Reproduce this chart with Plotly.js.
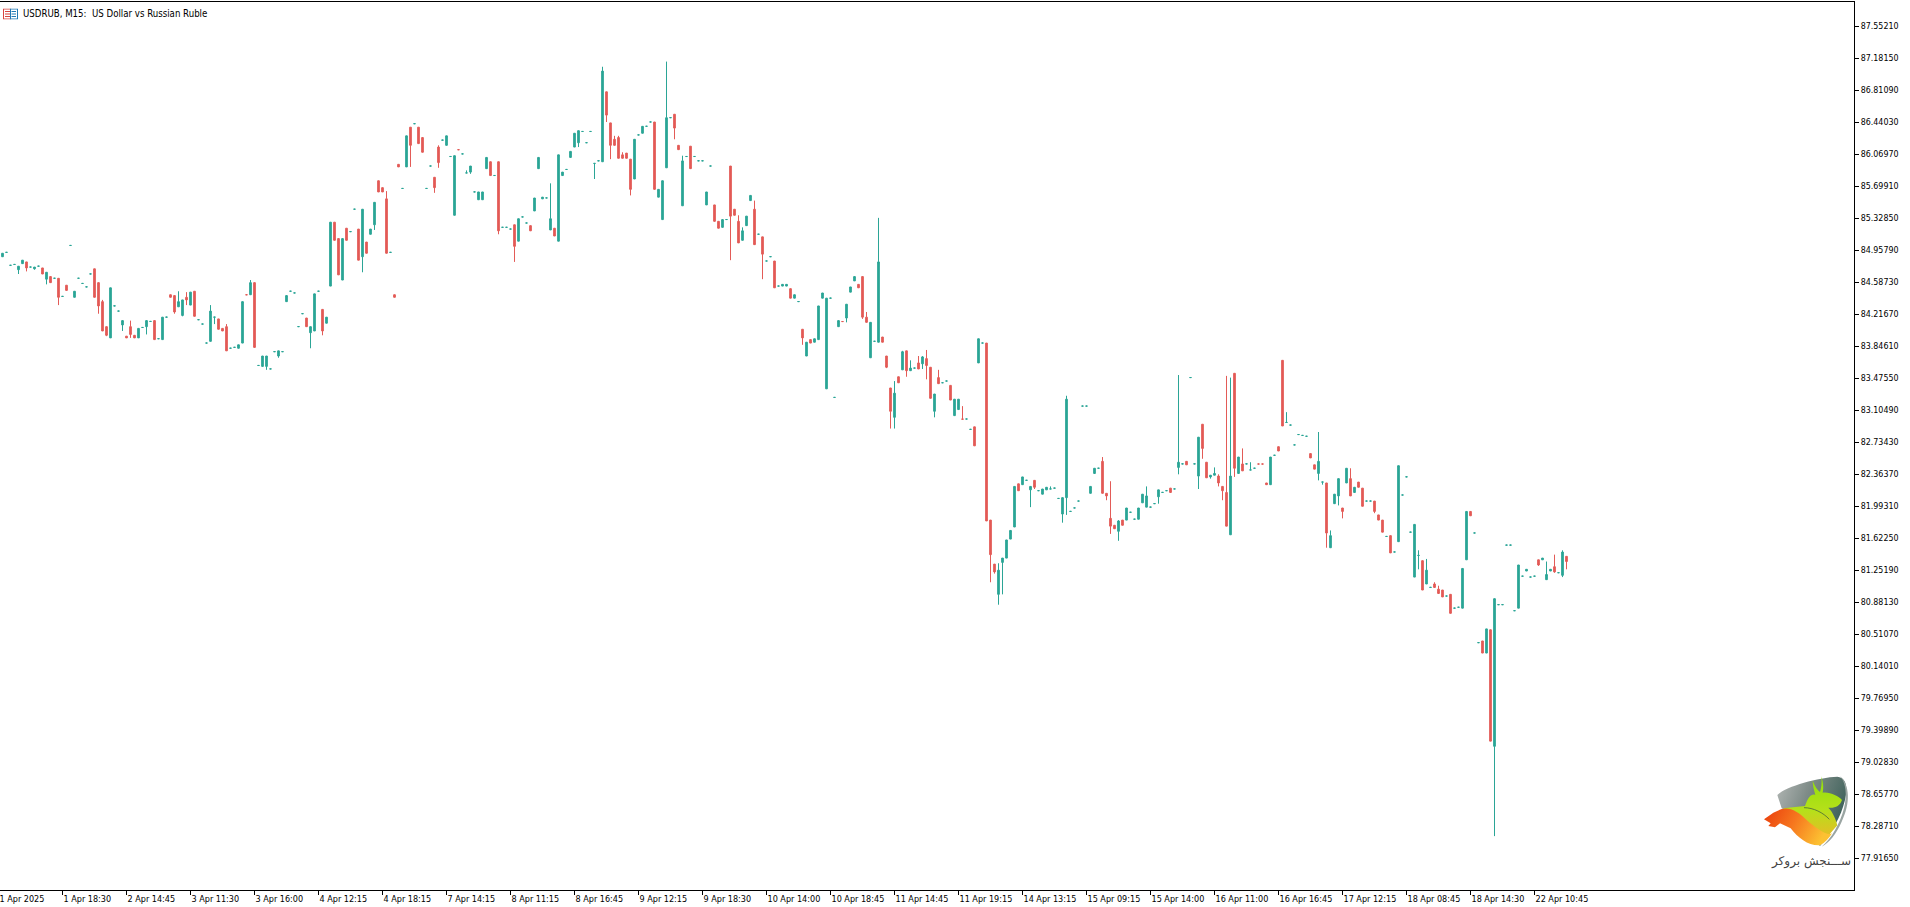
<!DOCTYPE html>
<html><head><meta charset="utf-8">
<script src="https://cdn.plot.ly/plotly-3.0.1.min.js"></script>
<style>html,body{margin:0;padding:0;background:#fff;overflow:hidden}#chart{position:absolute;left:-2px;top:0;width:1912px;height:907px}</style>
</head><body><div id="chart"></div>
<script>
const chartTitle = "USDRUB, M15:\u00a0\u00a0US Dollar vs Russian Ruble";
const brokerName = "ســـنجش بروکر";
const opens = [
84.88,84.93,84.78,84.79,84.73,84.80,84.82,84.76,84.74,84.77,
84.75,84.62,84.65,84.63,84.63,84.42,84.55,85.01,84.41,84.63,
84.57,84.53,84.68,84.74,84.58,84.36,84.07,83.94,84.31,84.25,
84.09,83.96,84.07,83.97,83.94,84.06,84.07,84.13,84.14,83.93,
83.92,84.18,84.44,84.43,84.30,84.20,84.41,84.32,84.48,84.15,
84.10,83.88,83.90,84.18,84.16,84.05,84.07,83.82,83.83,83.82,
83.88,84.44,84.44,84.58,83.62,83.61,83.61,83.58,83.78,83.73,
83.78,84.36,84.48,84.46,84.07,84.22,84.17,84.00,84.02,84.48,
84.27,84.11,84.54,85.28,85.09,84.61,85.21,85.17,85.43,85.20,
84.88,85.05,85.14,85.25,85.76,85.68,85.55,84.93,84.44,85.95,
85.67,85.92,86.38,86.42,86.38,86.26,85.67,85.93,85.80,86.15,
86.23,86.17,86.04,85.36,86.12,86.07,85.85,85.86,85.63,85.54,
85.54,85.90,85.98,85.82,85.98,85.22,85.22,85.20,85.25,85.06,
85.34,85.27,85.24,85.41,85.90,85.55,85.56,85.19,85.21,85.06,
85.82,85.89,86.03,86.15,86.20,86.33,86.20,86.33,85.96,85.99,
85.98,86.79,86.43,86.24,86.26,86.06,86.08,86.01,85.78,86.29,
86.31,86.39,86.44,86.44,85.57,85.31,85.91,86.49,86.53,86.17,
85.47,86.04,86.16,86.04,85.99,85.99,85.48,85.93,85.48,85.29,
85.22,85.31,85.93,85.43,85.29,85.07,85.24,85.53,85.43,85.14,
85.11,84.83,84.88,84.83,84.54,84.54,84.54,84.51,84.40,84.36,
84.04,83.73,83.92,83.89,83.92,84.40,83.35,84.40,83.25,84.07,
84.13,84.17,84.47,84.60,84.56,84.65,84.18,83.71,83.90,83.89,
83.95,83.73,83.36,83.02,83.49,83.57,83.79,83.56,83.59,83.65,
83.64,83.70,83.60,83.09,83.48,83.42,83.44,83.39,83.04,83.11,
83.00,83.00,82.88,82.91,83.65,83.88,83.88,81.83,81.32,80.97,
81.34,81.39,81.61,81.75,82.25,82.24,82.29,82.18,82.29,82.17,
82.13,82.18,82.19,82.20,82.08,81.90,82.09,81.93,81.97,82.05,
83.15,83.15,82.14,82.37,82.43,82.51,82.14,81.85,81.77,81.70,
81.83,81.83,81.92,81.84,81.84,82.03,81.98,81.98,82.02,82.10,
82.15,82.17,82.20,82.19,82.44,82.48,82.51,83.48,82.48,82.34,
82.94,82.50,82.33,82.35,82.34,82.22,82.15,81.66,83.53,82.37,
82.48,82.48,82.41,82.43,82.48,82.48,82.26,82.24,82.58,82.68,
83.68,82.96,82.93,82.70,82.82,82.81,82.80,82.60,82.47,82.37,
82.27,82.26,81.51,82.02,82.11,81.97,82.26,82.31,82.15,82.27,
82.20,82.05,82.05,82.05,81.89,81.83,81.64,81.65,81.46,81.58,
82.12,82.33,81.69,81.17,81.42,81.36,81.09,81.05,81.09,81.03,
81.02,80.95,80.97,80.81,80.82,80.81,81.37,81.93,81.68,80.41,
80.43,80.29,80.56,79.21,80.85,80.85,81.54,81.54,80.78,80.81,
81.18,81.24,81.17,81.18,81.37,81.37,81.14,81.24,81.29,81.22,81.19,81.41];
const highs = [
84.92,84.93,84.78,84.79,84.77,84.84,84.82,84.76,84.76,84.77,
84.75,84.70,84.65,84.63,84.63,84.42,84.55,85.01,84.48,84.63,
84.57,84.53,84.68,84.74,84.58,84.38,84.07,84.52,84.31,84.25,
84.14,83.96,84.14,83.97,84.05,84.06,84.14,84.13,84.14,83.93,
84.18,84.18,84.44,84.43,84.48,84.38,84.47,84.47,84.48,84.15,
84.10,83.88,84.32,84.18,84.16,84.05,84.10,83.82,83.83,83.86,
84.36,84.44,84.61,84.58,83.62,83.73,83.73,83.58,83.78,83.79,
83.78,84.43,84.48,84.46,84.07,84.22,84.17,84.07,84.45,84.48,
84.27,84.18,85.28,85.28,85.09,85.09,85.21,85.17,85.43,85.20,
85.43,85.05,85.20,85.51,85.76,85.68,85.64,84.93,84.44,85.95,
85.67,86.28,86.38,86.42,86.38,86.26,85.67,85.93,85.80,86.17,
86.23,86.28,86.04,86.05,86.12,86.07,85.88,85.93,85.63,85.63,
85.63,86.03,85.98,85.82,85.98,85.22,85.22,85.20,85.25,85.32,
85.34,85.27,85.24,85.56,86.03,85.57,85.56,85.73,85.21,86.06,
85.86,85.89,86.10,86.31,86.34,86.33,86.20,86.33,85.96,85.99,
87.08,86.79,86.43,86.28,86.28,86.09,86.08,86.01,86.24,86.29,
86.39,86.39,86.44,86.44,85.66,85.76,87.14,86.49,86.53,86.17,
86.05,86.04,86.16,86.04,85.99,85.99,85.63,85.93,85.48,85.29,
85.31,85.31,85.93,85.43,85.36,85.22,85.35,85.59,85.53,85.14,
85.11,84.83,84.88,84.83,84.54,84.56,84.56,84.51,84.44,84.36,
84.04,83.89,83.92,83.93,84.31,84.46,84.40,84.40,83.25,84.14,
84.13,84.33,84.53,84.65,84.56,84.65,84.24,84.12,83.90,85.33,
83.95,83.73,83.36,83.44,83.49,83.79,83.79,83.68,83.59,83.73,
83.73,83.80,83.60,83.29,83.57,83.42,83.44,83.39,83.23,83.23,
83.15,83.00,82.88,82.91,83.93,83.88,83.88,81.83,81.32,81.33,
81.39,81.60,81.71,82.22,82.25,82.33,82.29,82.22,82.29,82.17,
82.19,82.21,82.22,82.20,82.08,82.09,83.27,81.93,81.97,82.05,
83.15,83.15,82.22,82.43,82.43,82.56,82.14,82.28,81.77,81.83,
81.83,81.97,81.92,81.84,81.97,82.13,82.22,81.98,82.02,82.18,
82.15,82.17,82.20,82.19,83.51,82.48,82.51,83.48,82.48,82.79,
82.94,82.50,82.35,82.44,82.36,82.22,83.50,83.48,83.53,82.56,
82.66,82.48,82.50,82.43,82.48,82.48,82.26,82.56,82.58,82.68,
83.68,83.08,82.93,82.70,82.82,82.81,82.80,82.60,82.47,82.85,
82.27,82.26,81.71,82.13,82.31,81.97,82.43,82.43,82.21,82.27,
82.20,82.05,82.05,82.05,81.89,81.83,81.64,81.65,81.46,82.46,
82.12,82.33,81.69,81.78,81.48,81.36,81.38,81.05,81.11,81.07,
81.02,80.95,80.97,80.81,80.82,81.27,81.93,81.93,81.68,80.41,
80.43,80.57,80.56,80.92,80.85,80.85,81.54,81.54,80.78,81.31,
81.18,81.26,81.17,81.18,81.37,81.39,81.35,81.26,81.43,81.22,81.48,81.41];
const lows = [
84.88,84.93,84.78,84.79,84.68,84.80,84.71,84.76,84.73,84.77,
84.68,84.56,84.58,84.63,84.32,84.42,84.49,85.01,84.41,84.63,
84.57,84.53,84.68,84.41,84.22,84.02,83.96,83.94,84.31,84.25,
84.02,83.94,83.94,83.94,83.94,84.06,83.98,84.13,83.92,83.93,
83.92,84.18,84.41,84.22,84.30,84.19,84.32,84.32,84.19,84.15,
84.10,83.88,83.90,84.10,84.04,84.02,83.79,83.82,83.83,83.82,
83.88,84.44,84.44,83.83,83.62,83.61,83.57,83.58,83.78,83.71,
83.78,84.36,84.48,84.46,84.07,84.22,84.07,83.82,84.02,84.48,
83.97,84.11,84.54,85.07,84.67,84.61,85.07,85.17,85.43,84.84,
84.70,84.92,85.14,85.19,85.63,85.63,84.92,84.93,84.41,85.92,
85.67,85.92,85.92,86.42,86.19,86.09,85.67,85.93,85.62,85.91,
86.23,86.17,86.04,85.36,86.12,86.07,85.85,85.84,85.63,85.54,
85.54,85.90,85.82,85.82,85.14,85.22,85.22,85.20,84.82,85.06,
85.34,85.27,85.18,85.41,85.90,85.55,85.56,85.19,85.12,85.06,
85.82,85.89,86.03,86.15,86.15,86.33,86.20,86.33,85.78,85.99,
85.98,86.44,86.01,86.17,86.02,86.02,86.02,85.59,85.78,86.29,
86.31,86.39,86.44,85.66,85.57,85.31,85.91,86.49,86.24,86.12,
85.47,86.04,85.90,86.04,85.99,85.99,85.48,85.93,85.29,85.21,
85.22,85.31,84.84,85.36,85.04,85.07,85.24,85.53,85.02,85.14,
84.62,84.83,84.88,84.52,84.54,84.54,84.54,84.40,84.40,84.36,
83.86,83.73,83.88,83.89,83.92,84.40,83.35,84.40,83.25,84.07,
84.13,84.12,84.47,84.60,84.52,84.16,84.12,83.71,83.90,83.89,
83.89,83.59,82.89,82.89,83.42,83.57,83.49,83.56,83.59,83.58,
83.58,83.46,83.24,83.02,83.41,83.42,83.44,83.22,83.04,83.11,
83.00,83.00,82.88,82.69,83.65,83.88,81.82,81.11,81.21,80.85,
80.97,81.39,81.61,81.75,82.17,82.24,82.29,81.98,82.19,82.17,
82.13,82.18,82.19,82.20,82.08,81.80,81.89,81.93,81.97,82.05,
83.15,83.15,82.14,82.37,82.43,82.14,82.06,81.67,81.73,81.59,
81.77,81.83,81.92,81.84,81.84,82.03,81.98,81.98,82.02,82.02,
82.15,82.17,82.15,82.19,82.36,82.48,82.47,83.48,82.48,82.19,
82.54,82.32,82.31,82.35,82.22,82.06,81.76,81.66,82.33,82.37,
82.40,82.48,82.41,82.43,82.48,82.48,82.24,82.24,82.58,82.63,
82.92,82.96,82.93,82.70,82.82,82.81,82.80,82.55,82.42,82.29,
82.24,81.51,81.51,82.02,82.00,81.85,82.26,82.11,82.15,82.21,
81.99,82.05,82.05,81.91,81.83,81.69,81.64,81.45,81.46,81.58,
82.12,82.33,81.69,81.17,81.26,81.02,81.09,81.05,81.05,80.98,
80.94,80.95,80.75,80.81,80.82,80.81,81.37,81.88,81.68,80.41,
80.29,80.29,79.27,78.17,80.85,80.85,81.54,81.54,80.78,80.81,
81.18,81.24,81.17,81.18,81.30,81.37,81.14,81.24,81.22,81.22,81.17,81.26];
const closes = [
84.92,84.931,84.781,84.791,84.77,84.84,84.75,84.761,84.76,84.771,
84.68,84.70,84.58,84.631,84.41,84.421,84.49,85.011,84.48,84.631,
84.571,84.531,84.681,84.41,84.31,84.02,83.97,84.52,84.311,84.251,
84.14,83.94,83.98,83.94,84.05,84.061,84.14,84.131,83.92,83.931,
84.18,84.181,84.41,84.24,84.36,84.38,84.38,84.47,84.19,84.151,
84.101,83.881,84.25,84.181,84.04,84.02,83.79,83.821,83.831,83.86,
84.36,84.439,84.58,83.83,83.621,83.73,83.73,83.581,83.781,83.79,
83.781,84.43,84.481,84.461,84.071,84.221,84.07,84.07,84.45,84.481,
84.02,84.18,85.28,85.07,84.67,85.09,85.07,85.171,85.431,84.84,
85.43,84.92,85.20,85.51,85.63,85.63,84.92,84.931,84.41,85.92,
85.671,86.28,86.17,86.421,86.19,86.09,85.671,85.931,85.68,85.97,
86.231,86.28,86.041,86.05,86.119,86.071,85.851,85.93,85.631,85.63,
85.63,86.03,85.82,85.821,85.18,85.221,85.221,85.201,85.00,85.32,
85.341,85.271,85.18,85.56,86.03,85.57,85.561,85.32,85.12,86.06,
85.86,85.891,86.10,86.31,86.34,86.331,86.201,86.331,85.961,85.991,
87.03,86.52,86.17,86.17,86.02,86.02,86.02,85.66,86.24,86.291,
86.39,86.391,86.441,85.66,85.66,85.76,86.49,86.491,86.37,86.12,
85.99,86.041,85.90,86.041,85.991,85.991,85.63,85.931,85.29,85.21,
85.31,85.311,85.35,85.36,85.04,85.18,85.35,85.59,85.02,85.141,
84.91,84.831,84.881,84.52,84.541,84.56,84.56,84.40,84.44,84.361,
83.94,83.89,83.88,83.93,84.31,84.46,84.40,84.401,83.251,84.14,
84.129,84.33,84.53,84.65,84.52,84.18,84.12,84.12,83.901,84.82,
83.89,83.60,83.09,83.30,83.42,83.78,83.56,83.59,83.591,83.58,
83.72,83.62,83.24,83.29,83.41,83.421,83.441,83.22,83.23,83.23,
82.999,83.001,82.881,82.69,83.93,83.881,81.82,81.43,81.23,81.25,
81.39,81.60,81.71,82.22,82.17,82.33,82.291,82.22,82.21,82.171,
82.19,82.21,82.191,82.201,82.081,82.09,83.23,81.931,81.971,82.051,
83.151,83.151,82.22,82.43,82.431,82.14,82.11,81.76,81.73,81.82,
81.77,81.97,81.921,81.841,81.97,82.13,82.11,81.981,82.021,82.18,
82.151,82.171,82.15,82.191,82.50,82.481,82.47,83.481,82.481,82.79,
82.66,82.32,82.35,82.37,82.26,82.17,81.76,82.34,82.43,82.56,
82.40,82.481,82.411,82.431,82.479,82.479,82.24,82.56,82.581,82.63,
82.92,82.961,82.931,82.701,82.821,82.811,82.801,82.55,82.42,82.51,
82.271,81.68,81.65,82.13,82.31,81.93,82.43,82.11,82.21,82.21,
81.99,82.051,82.051,81.93,81.83,81.69,81.641,81.45,81.461,82.46,
82.121,82.331,81.691,81.78,81.421,81.02,81.25,81.051,81.05,80.98,
80.94,80.951,80.75,80.811,80.821,81.27,81.93,81.88,81.681,80.411,
80.29,80.57,79.27,80.92,80.851,80.851,81.541,81.541,80.781,81.31,
81.181,81.26,81.171,81.181,81.31,81.39,81.20,81.26,81.23,81.221,81.46,81.35];
const timeLabels = ["1 Apr 2025","1 Apr 18:30","2 Apr 14:45","3 Apr 11:30","3 Apr 16:00","4 Apr 12:15","4 Apr 18:15","7 Apr 14:15","8 Apr 11:15","8 Apr 16:45","9 Apr 12:15","9 Apr 18:30","10 Apr 14:00","10 Apr 18:45","11 Apr 14:45","11 Apr 19:15","14 Apr 13:15","15 Apr 09:15","15 Apr 14:00","16 Apr 11:00","16 Apr 16:45","17 Apr 12:15","18 Apr 08:45","18 Apr 14:30","22 Apr 10:45"];
const timeBars = [-1,15,31,47,63,79,95,111,127,143,159,175,191,207,223,239,255,271,287,303,319,335,351,367,383];
const priceTicks = [87.5521,87.1815,86.8109,86.4403,86.0697,85.6991,85.3285,84.9579,84.5873,84.2167,83.8461,83.4755,83.1049,82.7343,82.3637,81.9931,81.6225,81.2519,80.8813,80.5107,80.1401,79.7695,79.3989,79.0283,78.6577,78.2871,77.9165];
const bars = opens.map((_, i) => i);

const UP = "#2ba596", DOWN = "#e35b57";
const FONT = "'DejaVu Sans Condensed','Liberation Sans',sans-serif";
const fx = p => (p + 2) / 1856, fy = p => 1 - (p - 2) / 888;

const logoSvg = `<svg xmlns="http://www.w3.org/2000/svg" viewBox="60 90 280 240" width="560" height="480">
<defs>
<linearGradient id="s" x1="0" y1="0" x2="1" y2="0.4"><stop offset="0" stop-color="#b4b8b6"/><stop offset="0.45" stop-color="#7f8c88"/><stop offset="1" stop-color="#3f625b"/></linearGradient>
<linearGradient id="b" x1="0" y1="0" x2="0" y2="1"><stop offset="0" stop-color="#8fe00a"/><stop offset="0.5" stop-color="#b6e01a"/><stop offset="1" stop-color="#f6b02a"/></linearGradient>
<linearGradient id="w" x1="0" y1="0" x2="1" y2="0.3"><stop offset="0" stop-color="#ea3c0c"/><stop offset="0.5" stop-color="#f6761e"/><stop offset="1" stop-color="#fcc132"/></linearGradient>
</defs>
<path d="M112 165 C135 140 235 112 292 110 C316 112 322 135 318 165 C310 210 290 260 240 318 L170 230 L125 205 Z" fill="url(#s)"/>
<path d="M300 108 C330 135 332 190 305 245 C290 280 268 308 245 320 C275 296 300 250 312 205 C322 165 318 128 300 108 Z" fill="#9aa5a2"/>
<path d="M218 122 C225 140 232 150 240 156 C245 140 246 120 243 108 C252 130 250 150 248 158 C270 155 295 168 306 180 C300 198 285 205 265 203 C280 218 288 240 292 256 L240 316 L130 205 L195 198 C205 170 215 160 226 165 C222 150 218 135 218 122 Z" fill="url(#b)"/>
<path d="M72 238 L100 218 L125 207 C150 200 175 215 200 240 C225 262 262 290 276 280 C268 295 255 308 240 316 C205 318 175 295 152 265 L120 250 L105 262 L85 258 L92 250 Z" fill="url(#w)"/>
<path d="M192 203 C220 203 250 218 268 238" fill="none" stroke="#4c6a3a" stroke-width="2.5"/>
</svg>`;
const iconSvg = `<svg xmlns="http://www.w3.org/2000/svg" viewBox="0 0 15 11" width="60" height="44">
<rect x="0.5" y="0.5" width="7" height="10" fill="#fff" stroke="#d8453f"/><rect x="7.5" y="0.5" width="7" height="10" fill="#fff" stroke="#1f78b4"/>
<path d="M2 3H7M2 5.5H7M2 8H7" stroke="#d8453f"/><path d="M8.5 3H13M8.5 5.5H13M8.5 8H13" stroke="#1f78b4"/></svg>`;
const uri = s => "data:image/svg+xml," + encodeURIComponent(s);

const trace = {
  type: "candlestick", x: bars, open: opens, high: highs, low: lows, close: closes,
  increasing: {line: {color: UP, width: 1}, fillcolor: UP},
  decreasing: {line: {color: DOWN, width: 1}, fillcolor: DOWN},
  whiskerwidth: 0, hoverinfo: "skip", showlegend: false
};
const layout = {
  width: 1912, height: 907, margin: {l: 0, r: 56, t: 2, b: 17, pad: 0},
  paper_bgcolor: "#fff", plot_bgcolor: "#fff", showlegend: false, boxgap: 0.4, dragmode: false,
  font: {family: FONT, size: 9, color: "#000"},
  xaxis: {
    type: "linear", range: [-1.125, 462.875], rangeslider: {visible: false},
    tickmode: "array", tickvals: timeBars, ticktext: timeLabels, tickangle: 0,
    ticks: "outside", ticklen: 4, tickwidth: 1, tickcolor: "#000",
    showline: true, linecolor: "#000", linewidth: 1, mirror: true,
    showgrid: false, zeroline: false, ticklabelposition: "outside right",
    tickfont: {family: FONT, size: 9, color: "#000"}
  },
  yaxis: {
    side: "right", type: "linear", range: [77.546, 87.830],
    tickmode: "array", tickvals: priceTicks, tickformat: ".5f",
    ticks: "outside", ticklen: 4, tickwidth: 1, tickcolor: "#000",
    showline: true, linecolor: "#000", linewidth: 1,
    showgrid: false, zeroline: false,
    tickfont: {family: FONT, size: 8.8, color: "#000"}
  },
  annotations: [
    {xref: "paper", yref: "paper", x: fx(21), y: fy(13.5), xanchor: "left", yanchor: "middle", showarrow: false,
     text: chartTitle, font: {family: FONT, size: 9.6, color: "#000"}},
    {xref: "paper", yref: "paper", x: fx(1811), y: fy(861), xanchor: "center", yanchor: "middle", showarrow: false,
     text: brokerName, font: {family: "'DejaVu Sans',sans-serif", size: 12, color: "#444"}}
  ],
  images: [
    {source: uri(logoSvg), xref: "paper", yref: "paper", x: fx(1760), y: fy(770), sizex: 93.33/1856, sizey: 80/888,
     xanchor: "left", yanchor: "top", sizing: "stretch", layer: "above"},
    {source: uri(iconSvg), xref: "paper", yref: "paper", x: fx(3), y: fy(8.5), sizex: 15/1856, sizey: 11/888,
     xanchor: "left", yanchor: "top", sizing: "stretch", layer: "above"}
  ]
};
Plotly.newPlot("chart", [trace], layout, {displayModeBar: false, staticPlot: true, responsive: false});
</script></body></html>
